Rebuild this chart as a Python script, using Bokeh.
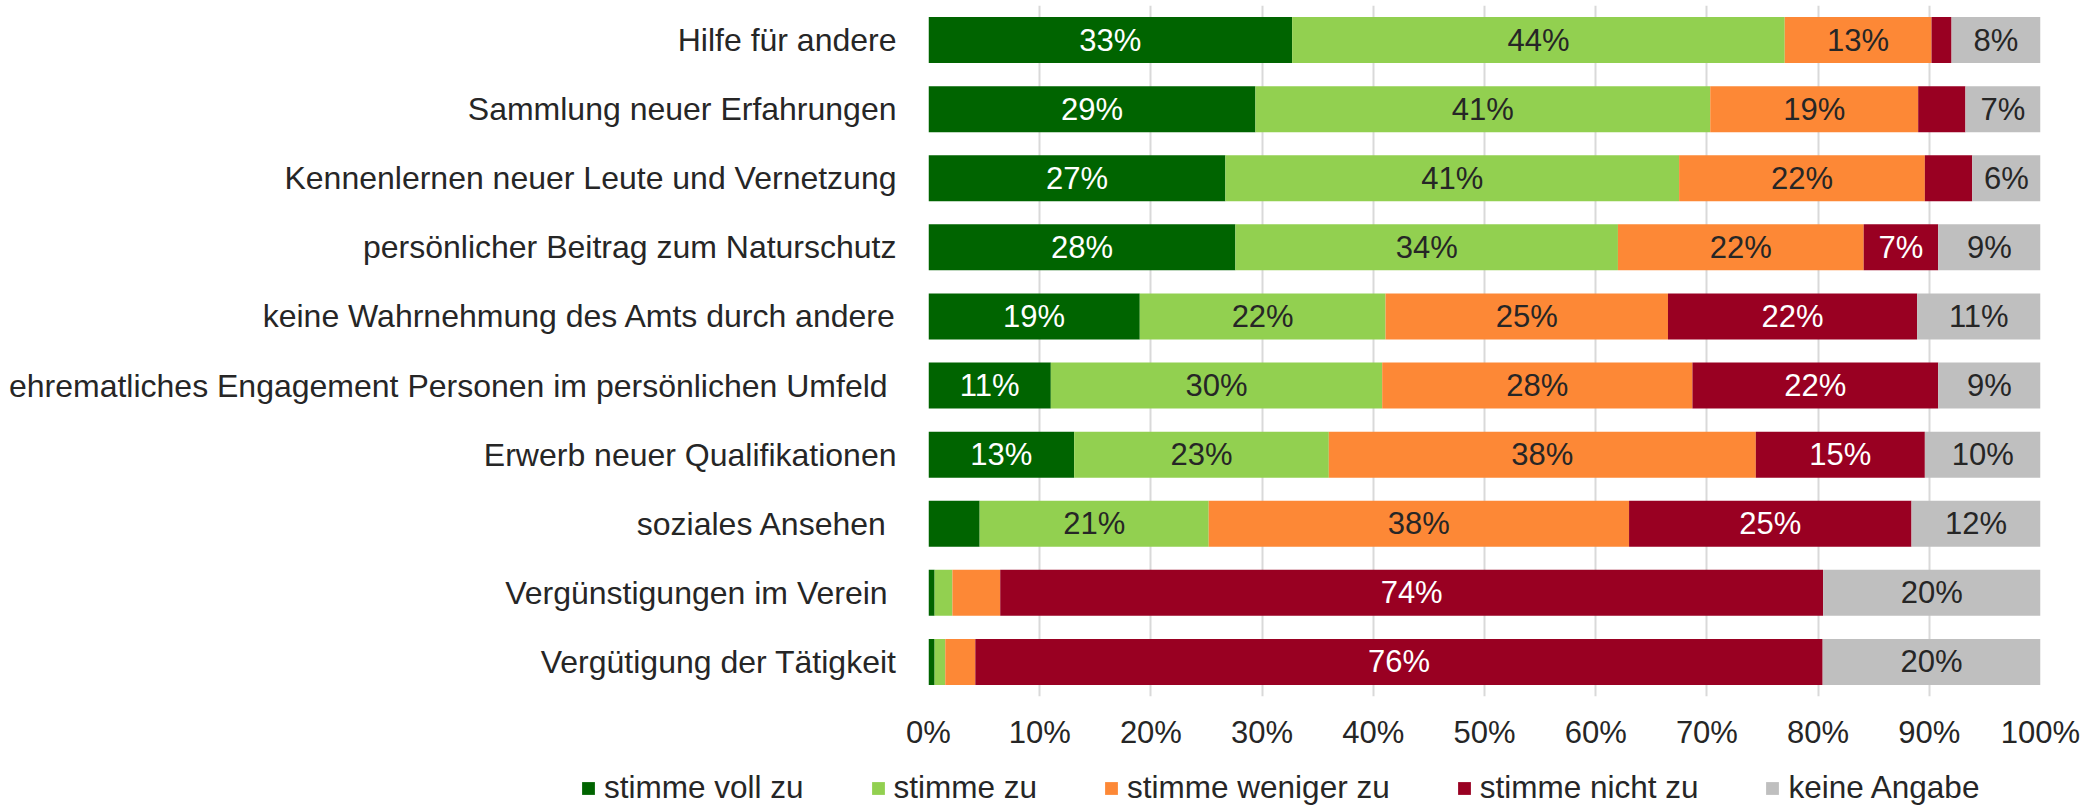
from bokeh.plotting import figure
from bokeh.models import (ColumnDataSource, Range1d, NumeralTickFormatter, FixedTicker,
                          Legend, LegendItem)
from bokeh.layouts import column, row
from bokeh.embed import file_html
from bokeh.resources import INLINE
from bokeh.core.properties import value

categories = [
    "Hilfe für andere",
    "Sammlung neuer Erfahrungen",
    "Kennenlernen neuer Leute und Vernetzung",
    "persönlicher Beitrag zum Naturschutz",
    "keine Wahrnehmung des Amts durch andere",
    "ehrematliches Engagement Personen im persönlichen Umfeld ",
    "Erwerb neuer Qualifikationen",
    "soziales Ansehen ",
    "Vergünstigungen im Verein ",
    "Vergütigung der Tätigkeit",
]
series_names = ["stimme voll zu", "stimme zu", "stimme weniger zu", "stimme nicht zu", "keine Angabe"]
voll = [32.7, 29.4, 26.7, 27.6, 19.0, 11.0, 13.1, 4.6, 0.55, 0.55]
zu = [44.3, 40.9, 40.8, 34.4, 22.1, 29.8, 22.9, 20.6, 1.6, 0.96]
weniger = [13.2, 18.7, 22.1, 22.1, 25.4, 27.9, 38.4, 37.8, 4.3, 2.7]
nicht = [1.8, 4.25, 4.26, 6.7, 22.4, 22.1, 15.2, 25.4, 74.0, 76.2]
keine = [8.0, 6.75, 6.16, 9.2, 11.1, 9.2, 10.4, 11.6, 19.55, 19.6]
tick_values = [0, 0.1, 0.2, 0.3, 0.4, 0.5, 0.6, 0.7, 0.8, 0.9, 1.0]

colors = ["#006400", "#92D050", "#FD8836", "#990022", "#BFBFBF"]
label_colors = ["#FFFFFF", "#262626", "#262626", "#FFFFFF", "#262626"]
FONT = "Liberation Sans"
TEXT = "#262626"
MIN_LABEL = 5.0

series = [voll, zu, weniger, nicht, keine]
keys = ["s%d" % i for i in range(len(series))]
data = {"cat": categories}
for k, s in zip(keys, series):
    data[k] = [v / 100.0 for v in s]
src = ColumnDataSource(data)

W = 2082
p = figure(width=W, height=756, y_range=list(reversed(categories)),
           x_range=Range1d(0, 1), output_backend="svg", toolbar_location=None,
           min_border_left=928, min_border_right=42, min_border_top=5, min_border_bottom=60)
p.outline_line_color = None
p.background_fill_color = "white"

renderers = p.hbar_stack(keys, y="cat", height=0.665, color=colors, source=src, line_color=None)

# labels
lx, ly, lt, lc = [], [], [], []
for i, cat in enumerate(categories):
    cum = 0.0
    for j, s in enumerate(series):
        v = s[i]
        if v >= MIN_LABEL:
            lx.append((cum + v / 2) / 100.0)
            ly.append(cat)
            lt.append("%d%%" % round(v))
            lc.append(label_colors[j])
        cum += v
lsrc = ColumnDataSource(dict(x=lx, y=ly, text=lt, color=lc))
p.text(x="x", y="y", text="text", source=lsrc, text_color="color",
       text_align="center", text_baseline="middle",
       text_font=value(FONT), text_font_size="31px")

# axes
p.xaxis.ticker = FixedTicker(ticks=tick_values)
p.xaxis.formatter = NumeralTickFormatter(format="0%")
p.xaxis.axis_line_color = None
p.xaxis.major_tick_line_color = None
p.xaxis.minor_tick_line_color = None
p.xaxis.major_tick_out = 0
p.xaxis.major_label_text_font = FONT
p.xaxis.major_label_text_font_size = "31px"
p.xaxis.major_label_text_color = TEXT
p.xaxis.major_label_standoff = 18

p.yaxis.axis_line_color = None
p.yaxis.major_tick_line_color = None
p.yaxis.major_tick_out = 0
p.yaxis.major_label_text_font = FONT
p.yaxis.major_label_text_font_size = "32px"
p.yaxis.major_label_text_color = TEXT
p.yaxis.major_label_standoff = 32

p.xgrid.grid_line_color = "#D9D9D9"
p.xgrid.grid_line_width = 2
p.ygrid.grid_line_color = None

# legend strip (same stacked series, hidden, only to feed the legend)
p2 = figure(width=W, height=50, x_range=Range1d(0, 1), y_range=list(reversed(categories)),
            output_backend="svg", toolbar_location=None,
            x_axis_location=None, y_axis_location=None,
            min_border_left=0, min_border_right=0, min_border_top=0, min_border_bottom=0)
p2.outline_line_color = None
p2.xgrid.grid_line_color = None
p2.ygrid.grid_line_color = None
leg_renderers = p2.hbar_stack(keys, y="cat", height=0.665, color=colors, source=src,
                              line_color=None, visible=False)
items = [LegendItem(label=n, renderers=[r]) for n, r in zip(series_names, leg_renderers)]
legend = Legend(items=items, orientation="horizontal", location=(580, 0),
                glyph_width=16, glyph_height=16, label_standoff=8, spacing=66,
                padding=0, margin=0, border_line_color=None, background_fill_alpha=0,
                inactive_fill_alpha=0,
                label_text_font=FONT, label_text_font_size="31.5px", label_text_color=TEXT,
                label_height=16)
p2.add_layout(legend, "center")

open("out.html", "w").write(file_html(column(p, row(p2), spacing=0), INLINE))
